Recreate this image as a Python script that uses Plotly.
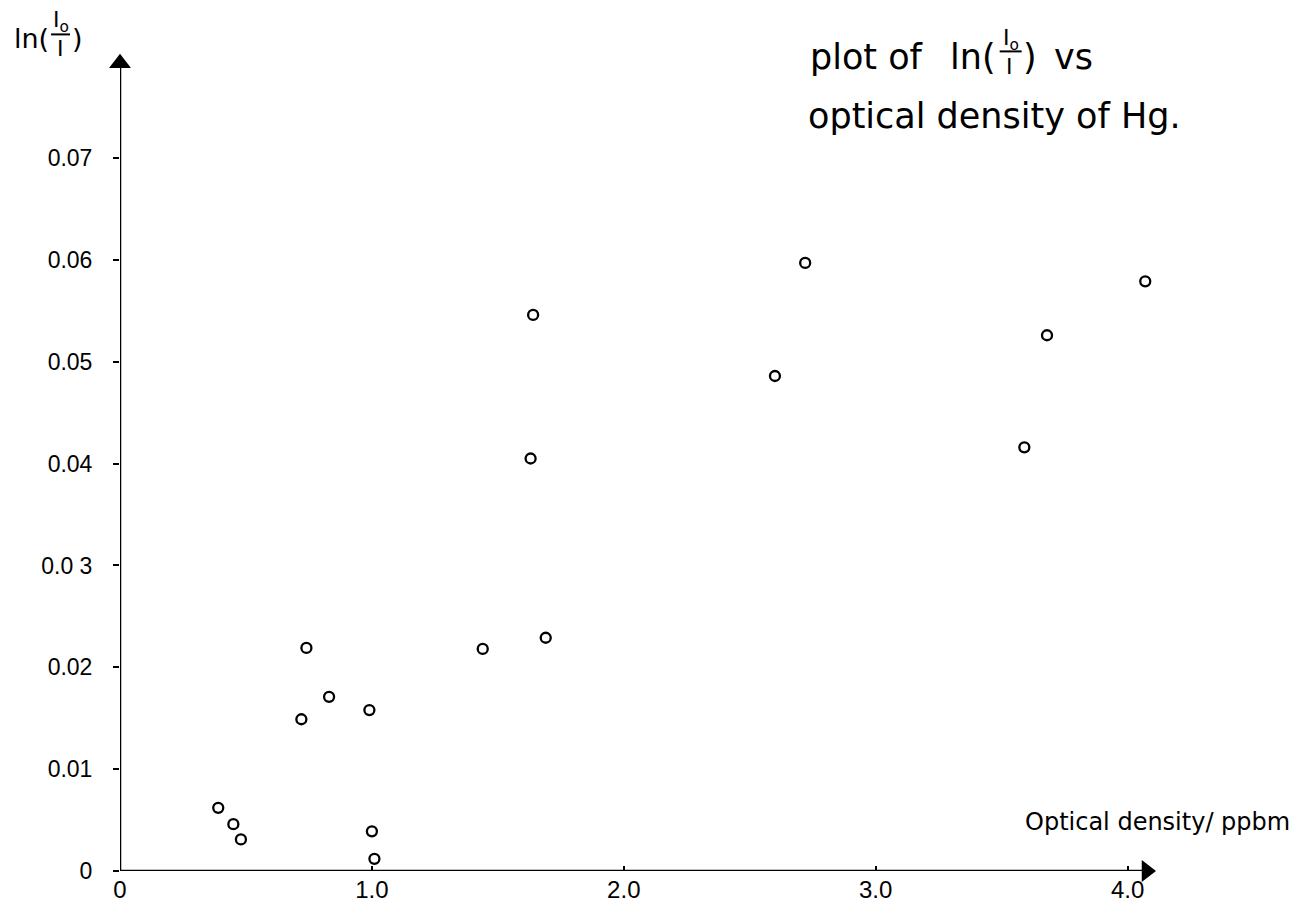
import plotly.graph_objects as go

# ---- data ----
optical_density = [0.39, 0.45, 0.48, 0.72, 0.74, 0.83, 0.99, 1.00, 1.01,
                   1.44, 1.63, 1.64, 1.69, 2.60, 2.72, 3.59, 3.68, 4.07]
ln_ratio = [0.0062, 0.0046, 0.0031, 0.0149, 0.0219, 0.0171, 0.0158, 0.0039, 0.0012,
            0.0218, 0.0405, 0.0546, 0.0229, 0.0486, 0.0597, 0.0416, 0.0526, 0.0579]

x_tickvals = [0, 1, 2, 3, 4]
x_ticktext = ["0", "1.0", "2.0", "3.0", "4.0"]
y_tickvals = [0, 0.01, 0.02, 0.03, 0.04, 0.05, 0.06, 0.07]
y_ticktext = ["0", "0.01", "0.02", "0.0 3", "0.04", "0.05", "0.06", "0.07"]

X_MAX, Y_MAX = 4.2, 0.081
X_TIP, Y_TIP = 4.115, 0.0806

W, H = 1298, 903
L, R, T, B = 120, 119.6, 45.6, 32
PW, PH = W - L - R, H - T - B

def px(xp):
    return (xp - L) / PW

def py(yp):
    return (H - B - yp) / PH

TEXT_FONT = "DejaVu Sans"
TICK_FONT = "Liberation Sans"

fig = go.Figure()
fig.add_trace(go.Scatter(
    x=optical_density, y=ln_ratio, mode="markers",
    marker=dict(symbol="circle-open", size=10, color="black", line=dict(width=2.3, color="black")),
    showlegend=False, hoverinfo="x+y", cliponaxis=False,
))

shapes = []
# axes drawn as lines ending in arrowheads
shapes.append(dict(type="line", xref="x", yref="y", x0=0, y0=0, x1=0, y1=Y_TIP - 0.0014,
                   line=dict(color="black", width=2.5)))
shapes.append(dict(type="line", xref="x", yref="y", x0=0, y0=0, x1=X_TIP - 0.04, y1=0,
                   line=dict(color="black", width=2.5)))

fig.add_trace(go.Scatter(
    x=[0, X_TIP - 0.04], y=[Y_TIP - 0.0013, 0], mode="markers",
    marker=dict(symbol=["triangle-up", "triangle-right"], size=19, color="black"),
    showlegend=False, hoverinfo="skip", cliponaxis=False,
))

annotations = []

def ann(text, xp, yp, size, xanchor="left", yanchor="middle", family=TEXT_FONT):
    annotations.append(dict(text=text, x=px(xp), y=py(yp), xref="paper", yref="paper",
                            xanchor=xanchor, yanchor=yanchor, showarrow=False,
                            font=dict(family=family, size=size, color="black")))

def frac_line(x0, x1, yp):
    shapes.append(dict(type="line", xref="paper", yref="paper",
                       x0=px(x0), x1=px(x1), y0=py(yp), y1=py(yp),
                       line=dict(color="black", width=2)))

# y-axis label: ln(Io / I)
ann("ln(", 12, 38, 27)
ann("I<sub>o</sub>", 61, 21, 22, xanchor="center")
frac_line(51, 70, 34)
ann("I", 60, 48, 22, xanchor="center")
ann(")", 70, 38, 27)

# title
ann("plot of", 808, 57, 35)
ann("ln(", 948, 57, 35)
ann("I<sub>o</sub>", 1011, 39, 22, xanchor="center")
frac_line(1000, 1022, 51)
ann("I", 1010, 66, 22, xanchor="center")
ann(")", 1021, 57, 35)
ann("vs", 1052, 57, 35)
ann("optical density of Hg.", 806, 116, 35)

# x-axis label
ann("Optical density/ ppbm", 1292, 822, 24, xanchor="right")

fig.update_layout(
    width=W, height=H, autosize=False,
    margin=dict(l=L, r=R, t=T, b=B),
    paper_bgcolor="white", plot_bgcolor="white",
    annotations=annotations, shapes=shapes,
    xaxis=dict(range=[0, X_MAX], tickvals=x_tickvals, ticktext=x_ticktext,
               showgrid=False, zeroline=False, showline=False, automargin=False,
               ticks="inside", ticklen=5, tickwidth=1.5, tickcolor="black",
               ticklabelstandoff=2,
               tickfont=dict(family=TICK_FONT, size=24, color="black")),
    yaxis=dict(range=[0, Y_MAX], tickvals=y_tickvals, ticktext=y_ticktext,
               showgrid=False, zeroline=False, showline=False, automargin=False,
               ticks="outside", ticklen=6, tickwidth=1.5, tickcolor="black",
               ticklabelstandoff=16,
               tickfont=dict(family=TICK_FONT, size=23, color="black")),
)

fig.write_html("out.html")
